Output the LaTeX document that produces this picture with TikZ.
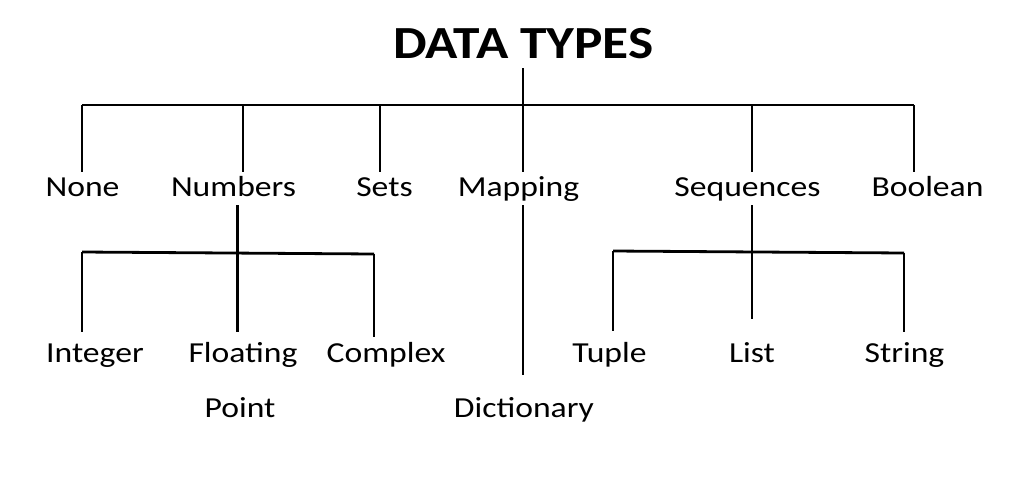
\documentclass[tikz,border=0pt]{standalone}
\usepackage{fontspec}
\setmainfont{Carlito}[FakeStretch=1.16]
\begin{document}
\begin{tikzpicture}[x=1pt,y=-1pt,
  lbl/.style={anchor=base,inner sep=0pt,font=\fontsize{29}{34}\selectfont},
  ttl/.style={anchor=base,inner sep=0pt,font=\fontsize{46}{52}\selectfont\bfseries},
  ln/.style={line width=2.8pt,black}]
\useasboundingbox[fill=white] (0,0) rectangle (1024,493);
% title and labels
\node[ttl] (title) at (523.5,58) {DATA TYPES};
\node[lbl] (none) at (82.5,196) {None};
\node[lbl] (numbers) at (233.5,196) {Numbers};
\node[lbl] (sets) at (384.5,196) {Sets};
\node[lbl] (mapping) at (518.5,196) {Mapping};
\node[lbl] (sequences) at (747.5,196) {Sequences};
\node[lbl] (boolean) at (927.5,196) {Boolean};
\node[lbl] (integer) at (95,362) {Integer};
\node[lbl] (floating) at (243,362) {Floating};
\node[lbl] (point) at (240,417) {Point};
\node[lbl] (complex) at (386,362) {Complex};
\node[lbl] (dictionary) at (524,417) {Dictionary};
\node[lbl] (tuple) at (609.5,362) {Tuple};
\node[lbl] (list) at (752,362) {List};
\node[lbl] (string) at (904.5,362) {String};
% coordinates
\coordinate (r0) at (523,68);
\coordinate (r1) at (523,105);
\coordinate (bl) at (82,105);
\coordinate (br) at (914,105);
\coordinate (bnu) at (243,105);
\coordinate (bse) at (380,105);
\coordinate (bsq) at (752,105);
\coordinate (dnone) at (82,172);
\coordinate (dnu) at (243,172);
\coordinate (dse) at (380,172);
\coordinate (dma) at (523,172);
\coordinate (dsq) at (752,172);
\coordinate (dbo) at (914,172);
% numbers subtree
\coordinate (n0) at (237.5,205);
\coordinate (n1) at (237.5,253);
\coordinate (nl) at (82,252);
\coordinate (nr) at (374,254);
\coordinate (nle) at (82,332);
\coordinate (nme) at (237.5,332);
\coordinate (nre) at (374,337);
% mapping
\coordinate (m0) at (523,205);
\coordinate (m1) at (523,375);
% sequences subtree
\coordinate (s0) at (752,205);
\coordinate (s1) at (752,252);
\coordinate (sl) at (613,251);
\coordinate (sr) at (904,253);
\coordinate (sle) at (613,331);
\coordinate (sme) at (752,319);
\coordinate (sre) at (904,332);
% lines
\draw[ln] (r0) -- (r1);
\draw[ln] (bl) -- (br);
\draw[ln] (bl) -- (dnone);
\draw[ln] (bnu) -- (dnu);
\draw[ln] (bse) -- (dse);
\draw[ln] (r1) -- (dma);
\draw[ln] (bsq) -- (dsq);
\draw[ln] (br) -- (dbo);
\draw[ln] (n0) -- (nme);
\draw[ln] (nl) -- (nr);
\draw[ln] (nl) -- (nle);
\draw[ln] (nr) -- (nre);
\draw[ln] (m0) -- (m1);
\draw[ln] (s0) -- (sme);
\draw[ln] (sl) -- (sr);
\draw[ln] (sl) -- (sle);
\draw[ln] (sr) -- (sre);
\end{tikzpicture}
\end{document}
